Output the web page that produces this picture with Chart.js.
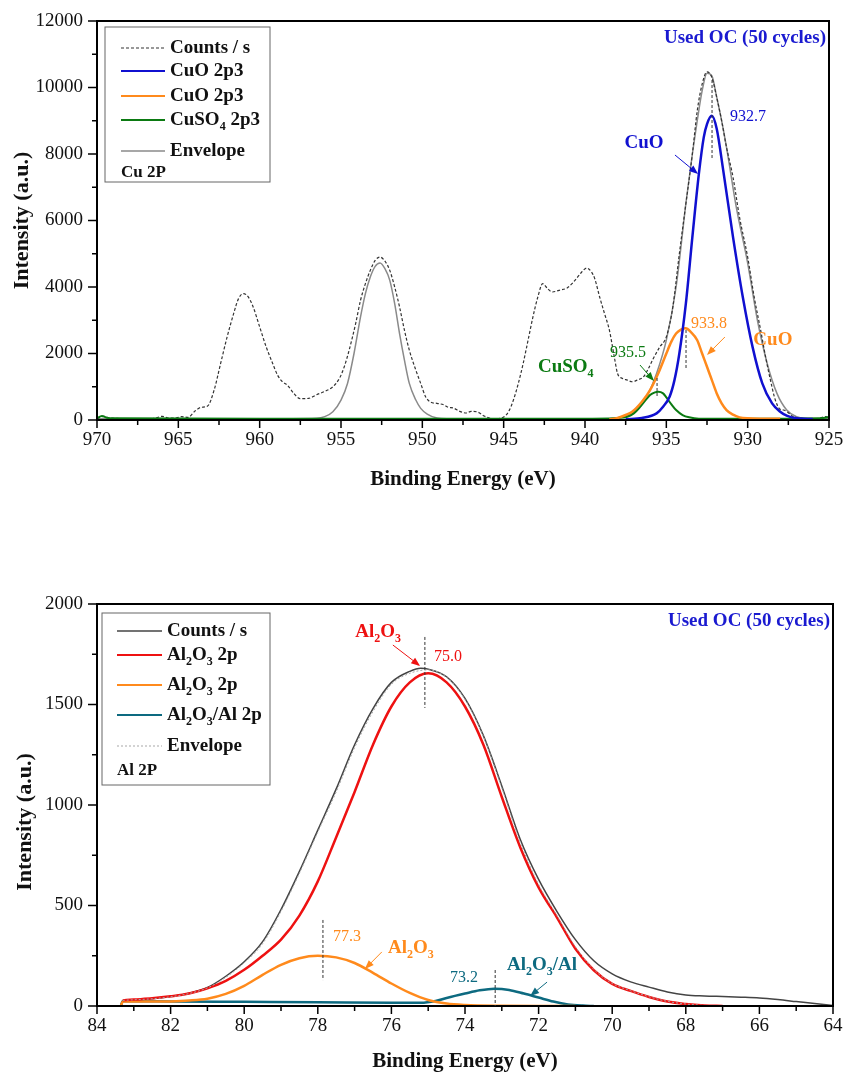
<!DOCTYPE html>
<html><head><meta charset="utf-8">
<script src="https://cdn.jsdelivr.net/npm/chart.js@4.4.0/dist/chart.umd.min.js"></script>
<style>
html,body{margin:0;padding:0;background:#fff;}
#wrap{position:relative;width:846px;height:1074px;overflow:hidden;}
.box{position:absolute;left:0;width:846px;}
#top{top:0;height:500px;}
#bot{top:584px;height:490px;}
</style></head><body>
<div id="wrap">
  <div class="box" id="top"><canvas id="cuChart"></canvas></div>
  <div class="box" id="bot"><canvas id="alChart"></canvas></div>
</div>
<script>
/* XPS spectra: Cu 2p (top) and Al 2p (bottom) of the used oxygen carrier */

const SERIF = '"Liberation Serif", "Times New Roman", serif';

// ---- Cu 2p panel ----
const cuCountsE = [970.0, 969.6, 969.2, 968.8, 968.2, 967.6, 967.0, 966.4, 966.0, 965.6, 965.2, 964.8, 964.4, 964.0, 963.6, 963.2, 962.8, 962.4, 962.0, 961.6, 961.3, 961.0, 960.7, 960.4, 960.0, 959.6, 959.2, 958.9, 958.6, 958.3, 957.9, 957.5, 957.0, 956.5, 956.0, 955.5, 955.1, 954.8, 954.5, 954.1, 953.8, 953.5, 953.2, 952.9, 952.6, 952.3, 952.0, 951.7, 951.4, 951.1, 950.8, 950.4, 950.1, 949.8, 949.5, 949.1, 948.7, 948.4, 948.1, 947.7, 947.3, 947.0, 946.6, 946.2, 945.8, 945.4, 945.0, 944.7, 944.4, 944.1, 943.8, 943.5, 943.2, 942.9, 942.6, 942.3, 942.0, 941.6, 941.1, 940.8, 940.5, 940.2, 939.9, 939.6, 939.4, 939.1, 938.8, 938.5, 938.2, 938.0, 937.7, 937.4, 937.1, 936.8, 936.4, 936.1, 935.8, 935.4, 935.0, 934.6, 934.2, 933.8, 933.4, 933.1, 932.8, 932.5, 932.2, 931.9, 931.6, 931.3, 930.9, 930.5, 930.0, 929.6, 929.2, 928.9, 928.6, 928.3, 928.0, 927.8, 927.5, 927.2, 926.8, 926.4, 926.0, 925.6, 925.2, 925.0];
const cuCounts = [40, 110, 60, 50, 20, 40, 20, 60, 110, 60, 60, 100, 80, 260, 380, 420, 900, 1700, 2500, 3200, 3650, 3800, 3700, 3400, 2800, 2200, 1700, 1350, 1150, 1050, 800, 640, 650, 760, 860, 1000, 1250, 1600, 2100, 2900, 3600, 4100, 4500, 4800, 4900, 4780, 4500, 4000, 3400, 2700, 2100, 1500, 1100, 700, 540, 500, 460, 380, 360, 260, 210, 260, 240, 120, 50, 40, 90, 250, 600, 1100, 1700, 2400, 3100, 3700, 4100, 3950, 3850, 3900, 3970, 4100, 4270, 4450, 4570, 4450, 4250, 3700, 3200, 2700, 1900, 1400, 1250, 1200, 1150, 1200, 1300, 1550, 1850, 2200, 2500, 3400, 5000, 6500, 8000, 9300, 10100, 10470, 10300, 9700, 9000, 8200, 7300, 6100, 4900, 3700, 2700, 1900, 1200, 600, 320, 300, 220, 100, 60, 30, 20, 60, 100, 60];

const cuEnvE = [970.0, 958.0, 956.5, 956.0, 955.5, 955.0, 954.6, 954.2, 953.8, 953.5, 953.2, 952.9, 952.6, 952.3, 952.0, 951.7, 951.4, 951.1, 950.8, 950.4, 950.1, 949.7, 949.1, 948.5, 938.5, 938.0, 937.5, 937.1, 936.6, 936.2, 935.6, 935.0, 934.4, 933.8, 933.4, 933.1, 932.8, 932.5, 932.2, 931.9, 931.6, 931.3, 930.7, 930.0, 929.4, 928.8, 928.2, 927.6, 927.0, 926.5, 925.0];
const cuEnv = [40, 40, 50, 100, 250, 600, 1100, 2000, 3100, 3800, 4300, 4620, 4720, 4550, 4200, 3500, 2600, 1800, 1100, 600, 350, 180, 60, 40, 40, 60, 120, 200, 400, 700, 1400, 2400, 4000, 6500, 8000, 9000, 9900, 10430, 10350, 9700, 9000, 8200, 6400, 4720, 3000, 1700, 800, 300, 100, 50, 40];

const cuO1E = [937.5, 936.5, 935.6, 935.2, 934.8, 934.5, 934.2, 933.8, 933.4, 933.0, 932.7, 932.5, 932.2, 931.9, 931.5, 930.9, 930.3, 929.7, 929.1, 928.5, 928.0, 927.6, 927.0, 926.0];
const cuO1 = [20, 60, 200, 400, 700, 1200, 2000, 3500, 5500, 7400, 8500, 8900, 9150, 8750, 7500, 5500, 3700, 2200, 1100, 500, 250, 130, 50, 30];

const cuO2E = [938.5, 938.0, 937.5, 937.1, 936.5, 936.0, 935.5, 935.0, 934.7, 934.4, 934.1, 933.8, 933.5, 933.1, 932.8, 932.5, 932.2, 931.9, 931.6, 931.3, 930.9, 930.5, 930.0, 929.0, 928.0];
const cuO2 = [20, 60, 150, 250, 550, 900, 1400, 2000, 2350, 2600, 2720, 2760, 2650, 2400, 2000, 1600, 1200, 800, 500, 300, 160, 80, 50, 40, 35];

const cuSO4E = [970.0, 969.7, 969.4, 969.0, 960.0, 950.0, 945.0, 940.0, 938.5, 938.0, 937.4, 937.0, 936.6, 936.3, 936.0, 935.7, 935.5, 935.2, 935.0, 934.7, 934.4, 934.0, 933.6, 933.0, 930.0, 925.5, 925.0];
const cuSO4 = [50, 120, 70, 50, 40, 40, 40, 40, 45, 60, 100, 200, 400, 580, 750, 830, 850, 800, 680, 480, 300, 150, 80, 40, 35, 50, 90];

const cuTicksX = [970, 965, 960, 955, 950, 945, 940, 935, 930, 925];
const cuMinorX = [967.5, 962.5, 957.5, 952.5, 947.5, 942.5, 937.5, 932.5, 927.5];
const cuTicksY = [0, 2000, 4000, 6000, 8000, 10000, 12000];
const cuMinorY = [1000, 3000, 5000, 7000, 9000, 11000];

// ---- Al 2p panel ----
const alCountsE = [83.35, 83.3, 83.0, 82.5, 82.0, 81.5, 81.0, 80.5, 80.0, 79.5, 79.0, 78.5, 78.0, 77.5, 77.0, 76.5, 76.0, 75.5, 75.2, 75.0, 74.5, 74.0, 73.5, 73.0, 72.5, 72.0, 71.5, 71.0, 70.5, 70.0, 69.5, 69.0, 68.5, 68.0, 67.5, 67.0, 66.5, 66.0, 65.5, 65.0, 64.5, 64.0];
const alCounts = [5, 28, 31, 36, 47, 64, 92, 148, 220, 320, 480, 670, 875, 1080, 1300, 1480, 1610, 1665, 1680, 1676, 1638, 1530, 1345, 1095, 830, 630, 470, 330, 225, 160, 120, 94, 70, 55, 50, 47, 44, 40, 32, 22, 12, 2];

const alEnvE = [83.3, 83.0, 82.5, 82.0, 81.5, 81.0, 80.5, 80.0, 79.5, 79.0, 78.5, 78.0, 77.5, 77.0, 76.5, 76.0, 75.5, 75.0, 74.5, 74.0, 73.5, 73.0, 72.5, 72.0, 71.5, 71.0, 70.5, 70.0, 69.5, 69.0, 68.5, 68.0, 67.5, 67.0];
const alEnv = [28, 31, 36, 46, 62, 90, 142, 215, 310, 470, 660, 865, 1065, 1285, 1465, 1600, 1655, 1672, 1635, 1525, 1340, 1085, 815, 605, 450, 295, 182, 112, 76, 46, 23, 10, 3, 0];

const alRedE = [83.3, 83.0, 82.5, 82.0, 81.5, 81.0, 80.5, 80.0, 79.5, 79.0, 78.5, 78.0, 77.5, 77.0, 76.5, 76.0, 75.5, 75.0, 74.5, 74.0, 73.5, 73.0, 72.5, 72.0, 71.5, 71.0, 70.5, 70.0, 69.5, 69.0, 68.5, 68.0, 67.5, 67.0];
const alRed = [28, 32, 38, 48, 62, 88, 125, 180, 250, 330, 450, 620, 840, 1065, 1300, 1490, 1610, 1655, 1610, 1490, 1300, 1040, 790, 590, 440, 285, 178, 110, 75, 45, 22, 10, 3, 0];

const alOrE = [83.35, 83.3, 82.5, 82.0, 81.5, 81.0, 80.5, 80.0, 79.5, 79.0, 78.5, 78.0, 77.5, 77.0, 76.5, 76.0, 75.5, 75.0, 74.5, 74.0, 73.0, 72.0, 71.0];
const alOr = [0, 22, 22, 23, 27, 36, 60, 100, 155, 205, 238, 250, 242, 214, 165, 112, 65, 30, 12, 5, 1, 0, 0];

const alAlE = [83.35, 83.3, 82.0, 80.0, 78.0, 76.0, 75.2, 74.8, 74.5, 74.0, 73.6, 73.2, 72.8, 72.4, 72.0, 71.6, 71.2, 70.8, 70.5];
const alAl = [0, 24, 23, 21, 19, 16, 16, 25, 40, 62, 78, 86, 80, 62, 42, 22, 8, 2, 0];

const alTicksX = [84, 82, 80, 78, 76, 74, 72, 70, 68, 66, 64];
const alMinorX = [83, 81, 79, 77, 75, 73, 71, 69, 67, 65];
const alTicksY = [0, 500, 1000, 1500, 2000];
const alMinorY = [250, 750, 1250, 1750];

const pts = (xs, ys) => xs.map((x, i) => ({ x, y: ys[i] }));

function line(data, color, width, dash) {
  return {
    data, borderColor: color, borderWidth: width, borderDash: dash || [],
    pointRadius: 0, showLine: true, fill: false, cubicInterpolationMode: 'monotone',
  };
}

// text with "_x" subscripts, e.g. 'Al_2O_3'
function rich(ctx, str, x, y, align, size, color, bold) {
  const parts = [];
  for (let i = 0; i < str.length; i++) {
    if (str[i] === '_') { parts.push({ t: str[i + 1], sub: true }); i++; }
    else if (parts.length && !parts[parts.length - 1].sub) parts[parts.length - 1].t += str[i];
    else parts.push({ t: str[i], sub: false });
  }
  const big = (bold ? 'bold ' : '') + size + 'px ' + SERIF;
  const small = (bold ? 'bold ' : '') + Math.round(size * 0.62) + 'px ' + SERIF;
  let w = 0;
  parts.forEach((p) => { ctx.font = p.sub ? small : big; w += ctx.measureText(p.t).width; });
  let cx = align === 'center' ? x - w / 2 : align === 'right' ? x - w : x;
  ctx.fillStyle = color; ctx.textBaseline = 'middle'; ctx.textAlign = 'left';
  parts.forEach((p) => {
    ctx.font = p.sub ? small : big;
    ctx.fillText(p.t, cx, p.sub ? y + size * 0.38 : y);
    cx += ctx.measureText(p.t).width;
  });
}

function arrow(ctx, x1, y1, x2, y2, color) {
  const a = Math.atan2(y2 - y1, x2 - x1);
  ctx.strokeStyle = color; ctx.fillStyle = color; ctx.lineWidth = 1; ctx.setLineDash([]);
  ctx.beginPath(); ctx.moveTo(x1, y1); ctx.lineTo(x2 - 6 * Math.cos(a), y2 - 6 * Math.sin(a)); ctx.stroke();
  ctx.beginPath();
  ctx.moveTo(x2, y2);
  ctx.lineTo(x2 - 9 * Math.cos(a) + 3.5 * Math.sin(a), y2 - 9 * Math.sin(a) - 3.5 * Math.cos(a));
  ctx.lineTo(x2 - 9 * Math.cos(a) - 3.5 * Math.sin(a), y2 - 9 * Math.sin(a) + 3.5 * Math.cos(a));
  ctx.closePath(); ctx.fill();
}

function vdash(ctx, x, y1, y2) {
  ctx.strokeStyle = '#333'; ctx.lineWidth = 1; ctx.setLineDash([3, 2]);
  ctx.beginPath(); ctx.moveTo(x, y1); ctx.lineTo(x, y2); ctx.stroke(); ctx.setLineDash([]);
}

// frame, ticks, axis titles, legend box and peak labels
function decor(opts) {
  return {
    id: 'decor',
    afterDraw(chart) {
      const { ctx, chartArea: a, scales: { x, y } } = chart;
      ctx.save();
      ctx.strokeStyle = '#000'; ctx.lineWidth = 2; ctx.setLineDash([]);
      ctx.strokeRect(a.left, a.top, a.right - a.left, a.bottom - a.top);
      ctx.lineWidth = 1.5;
      const tick = (vals, len, horiz) => vals.forEach((v) => {
        ctx.beginPath();
        if (horiz) { const px = x.getPixelForValue(v); ctx.moveTo(px, a.bottom); ctx.lineTo(px, a.bottom + len); }
        else { const py = y.getPixelForValue(v); ctx.moveTo(a.left, py); ctx.lineTo(a.left - len, py); }
        ctx.stroke();
      });
      tick(opts.ticksX, 8, true); tick(opts.minorX, 5, true);
      tick(opts.ticksY, 9, false); tick(opts.minorY, 5, false);

      ctx.fillStyle = '#111'; ctx.textAlign = 'center'; ctx.textBaseline = 'middle';
      ctx.font = 'bold 21px ' + SERIF;
      ctx.fillText('Binding Energy (eV)', (a.left + a.right) / 2, a.bottom + opts.xTitleOff);
      ctx.font = 'bold 22px ' + SERIF;
      ctx.save(); ctx.translate(opts.yTitleX, (a.top + a.bottom) / 2 + opts.yTitleShift); ctx.rotate(-Math.PI / 2);
      ctx.fillText('Intensity (a.u.)', 0, 0); ctx.restore();

      // legend
      const L = opts.legend;
      ctx.strokeStyle = '#666'; ctx.lineWidth = 1;
      ctx.strokeRect(a.left + L.x, a.top + L.y, L.w, L.h);
      L.items.forEach((it) => {
        const yy = a.top + it.y;
        ctx.strokeStyle = it.color; ctx.lineWidth = it.width; ctx.setLineDash(it.dash || []);
        ctx.beginPath(); ctx.moveTo(a.left + L.lx1, yy); ctx.lineTo(a.left + L.lx2, yy); ctx.stroke();
        ctx.setLineDash([]);
        rich(ctx, it.label, a.left + L.tx, yy, 'left', 19, '#111', true);
      });
      rich(ctx, L.note, a.left + L.lx1, a.top + L.noteY, 'left', 17, '#111', true);

      rich(ctx, 'Used OC (50 cycles)', a.right - 3, a.top + 17, 'right', 19, '#1a1ad0', true);

      const X = (v) => x.getPixelForValue(v), Y = (v) => y.getPixelForValue(v);
      opts.dashes.forEach((d) => vdash(ctx, X(d[0]), Y(d[1]), Y(d[2])));
      opts.arrows.forEach((d) => arrow(ctx, X(d[0]), Y(d[1]), X(d[2]), Y(d[3]), d[4]));
      opts.texts.forEach((t) => rich(ctx, t.s, X(t.e), Y(t.v), t.align, t.size, t.color, t.bold));
      ctx.restore();
    },
  };
}

function scales(xMin, xMax, ticksX, yMax, ticksY, xH) {
  const font = { family: SERIF, size: 19 };
  return {
    x: {
      type: 'linear', reverse: true, min: xMin, max: xMax,
      afterBuildTicks: (s) => { s.ticks = ticksX.map((v) => ({ value: v })); },
      ticks: { font, color: '#111', padding: 9, maxRotation: 0, autoSkip: false, callback: (v) => String(v) },
      grid: { display: false, drawTicks: false }, border: { display: false },
      afterFit: (s) => { s.height = xH; s.paddingLeft = 0; s.paddingRight = 0; },
    },
    y: {
      min: 0, max: yMax,
      afterBuildTicks: (s) => { s.ticks = ticksY.map((v) => ({ value: v })); },
      ticks: { font, color: '#111', padding: 14, callback: (v) => String(v) },
      grid: { display: false, drawTicks: false }, border: { display: false },
      afterFit: (s) => { s.width = 97; s.paddingTop = 0; s.paddingBottom = 0; },
    },
  };
}

const common = {
  responsive: true, maintainAspectRatio: false, animation: false, devicePixelRatio: 1,
  plugins: { legend: { display: false }, tooltip: { enabled: false } },
};

const BLUE = '#1010d0', ORANGE = '#ff8a1c', GREEN = '#0b7a12', GREY = '#8a8a8a', DARK = '#333';

new Chart(document.getElementById('cuChart'), {
  type: 'scatter',
  data: {
    datasets: [
      line(pts(cuO1E, cuO1), BLUE, 2.5),
      line(pts(cuO2E, cuO2), ORANGE, 2.5),
      line(pts(cuSO4E, cuSO4), GREEN, 2),
      line(pts(cuCountsE, cuCounts), DARK, 1.2, [3, 2]),
      line(pts(cuEnvE, cuEnv), GREY, 1.5),
    ],
  },
  options: {
    ...common,
    layout: { padding: { top: 21, right: 17, left: 0, bottom: 0 } },
    scales: scales(925, 970, cuTicksX, 12000, cuTicksY, 80),
  },
  plugins: [decor({
    ticksX: cuTicksX, minorX: cuMinorX, ticksY: cuTicksY, minorY: cuMinorY,
    xTitleOff: 60, yTitleX: 22, yTitleShift: 0,
    legend: {
      x: 8, y: 6, w: 165, h: 155, lx1: 24, lx2: 68, tx: 73, noteY: 152,
      note: 'Cu 2P',
      items: [
        { label: 'Counts / s', color: DARK, width: 1.2, dash: [3, 2], y: 27 },
        { label: 'CuO 2p3', color: BLUE, width: 2, y: 50 },
        { label: 'CuO 2p3', color: ORANGE, width: 2, y: 75 },
        { label: 'CuSO_4 2p3', color: GREEN, width: 2, y: 99 },
        { label: 'Envelope', color: GREY, width: 1.5, y: 130 },
      ],
    },
    dashes: [[932.19, 10225, 7820], [933.79, 2707, 1504], [935.57, 1263, 662]],
    arrows: [
      [934.47, 7970, 933.05, 7398, BLUE],
      [931.4, 2496, 932.5, 1955, ORANGE],
      [936.62, 1654, 935.76, 1173, GREEN],
    ],
    texts: [
      { s: '932.7', e: 931.09, v: 9113, align: 'left', size: 16, color: BLUE },
      { s: 'CuO', e: 936.37, v: 8331, align: 'center', size: 19, color: BLUE, bold: true },
      { s: '933.8', e: 932.38, v: 2887, align: 'center', size: 16, color: ORANGE },
      { s: 'CuO', e: 928.45, v: 2406, align: 'center', size: 19, color: ORANGE, bold: true },
      { s: '935.5', e: 937.36, v: 2015, align: 'center', size: 16, color: GREEN },
      { s: 'CuSO_4', e: 942.89, v: 1594, align: 'left', size: 19, color: GREEN, bold: true },
    ],
  })],
});

const RED = '#ee1111', TEAL = '#0d6a80', ALGREY = '#444', ENV = '#a8a8a8';

new Chart(document.getElementById('alChart'), {
  type: 'scatter',
  data: {
    datasets: [
      line(pts(alEnvE, alEnv), ENV, 1, [2, 2]),
      line(pts(alRedE, alRed), RED, 2.5),
      line(pts(alOrE, alOr), ORANGE, 2.5),
      line(pts(alAlE, alAl), TEAL, 2.5),
      line(pts(alCountsE, alCounts), ALGREY, 1.5),
    ],
  },
  options: {
    ...common,
    layout: { padding: { top: 20, right: 13, left: 0, bottom: 0 } },
    scales: scales(64, 84, alTicksX, 2000, alTicksY, 68),
  },
  plugins: [decor({
    ticksX: alTicksX, minorX: alMinorX, ticksY: alTicksY, minorY: alMinorY,
    xTitleOff: 56, yTitleX: 25, yTitleShift: 17,
    legend: {
      x: 5, y: 9, w: 168, h: 172, lx1: 20, lx2: 65, tx: 70, noteY: 167,
      note: 'Al 2P',
      items: [
        { label: 'Counts / s', color: ALGREY, width: 1.5, y: 27 },
        { label: 'Al_2O_3 2p', color: RED, width: 2, y: 51 },
        { label: 'Al_2O_3 2p', color: ORANGE, width: 2, y: 81 },
        { label: 'Al_2O_3/Al 2p', color: TEAL, width: 2, y: 111 },
        { label: 'Envelope', color: ENV, width: 1, dash: [2, 2], y: 142 },
      ],
    },
    dashes: [[75.09, 1836, 1483], [77.86, 428, 129], [73.18, 179, 0]],
    arrows: [
      [75.96, 1796, 75.22, 1692, RED],
      [76.26, 269, 76.72, 184, ORANGE],
      [71.77, 119, 72.23, 50, TEAL],
    ],
    texts: [
      { s: 'Al_2O_3', e: 76.36, v: 1861, align: 'center', size: 19, color: RED, bold: true },
      { s: '75.0', e: 74.84, v: 1736, align: 'left', size: 16, color: RED },
      { s: '77.3', e: 77.59, v: 343, align: 'left', size: 16, color: ORANGE },
      { s: 'Al_2O_3', e: 76.09, v: 289, align: 'left', size: 19, color: ORANGE, bold: true },
      { s: '73.2', e: 74.41, v: 139, align: 'left', size: 16, color: TEAL },
      { s: 'Al_2O_3/Al', e: 72.86, v: 204, align: 'left', size: 19, color: TEAL, bold: true },
    ],
  })],
});
</script>
</body></html>
